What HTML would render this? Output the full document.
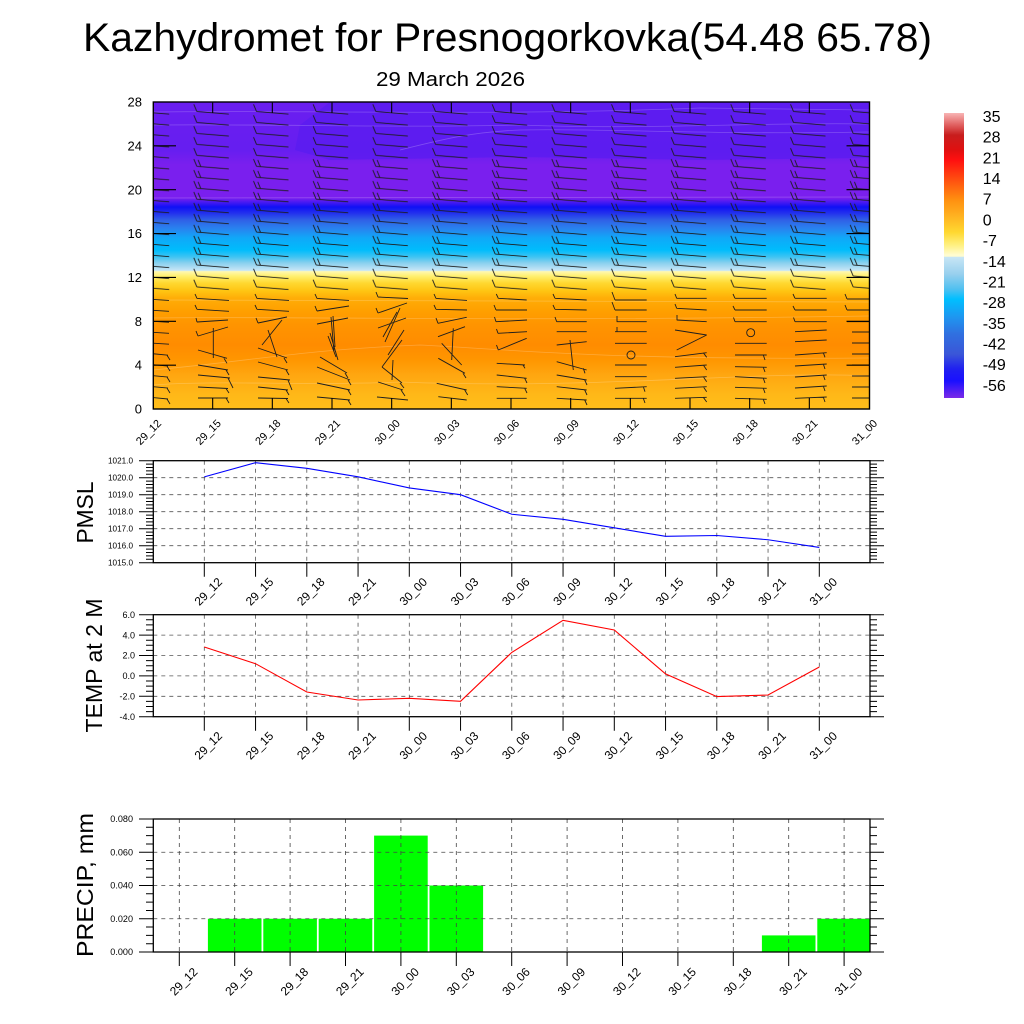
<!DOCTYPE html>
<html><head><meta charset="utf-8">
<style>
html,body{margin:0;padding:0;background:#fff;}
svg{display:block;font-family:"Liberation Sans",Arial,Helvetica,sans-serif;}
</style></head>
<body>
<svg width="1024" height="1024" viewBox="0 0 1024 1024" xmlns="http://www.w3.org/2000/svg">
<defs>
<linearGradient id="fld" gradientUnits="userSpaceOnUse" x1="0" y1="102" x2="0" y2="409">
<stop offset="0" stop-color="#6a1ef0"/>
<stop offset="0.156" stop-color="#661ef0"/>
<stop offset="0.205" stop-color="#7a1fee"/>
<stop offset="0.313" stop-color="#7a1fee"/>
<stop offset="0.326" stop-color="#4a1af2"/>
<stop offset="0.342" stop-color="#1010f5"/>
<stop offset="0.362" stop-color="#2230ee"/>
<stop offset="0.384" stop-color="#3060e6"/>
<stop offset="0.410" stop-color="#2a80ee"/>
<stop offset="0.443" stop-color="#10a8f8"/>
<stop offset="0.482" stop-color="#00bcfc"/>
<stop offset="0.505" stop-color="#40c4f2"/>
<stop offset="0.524" stop-color="#88d0ee"/>
<stop offset="0.549" stop-color="#c8e6f6"/>
<stop offset="0.552" stop-color="#fff8b0"/>
<stop offset="0.567" stop-color="#fff070"/>
<stop offset="0.590" stop-color="#ffd830"/>
<stop offset="0.616" stop-color="#ffc412"/>
<stop offset="0.638" stop-color="#ffae08"/>
<stop offset="0.678" stop-color="#ffa000"/>
<stop offset="0.726" stop-color="#ff9400"/>
<stop offset="0.792" stop-color="#ff8c00"/>
<stop offset="0.840" stop-color="#ff9600"/>
<stop offset="0.889" stop-color="#ffa610"/>
<stop offset="0.954" stop-color="#ffb818"/>
<stop offset="1" stop-color="#ffbe1a"/>
</linearGradient>
<linearGradient id="cbar" gradientUnits="userSpaceOnUse" x1="0" y1="113" x2="0" y2="398">
<stop offset="0" stop-color="#f8b4b4"/>
<stop offset="0.042" stop-color="#e06060"/>
<stop offset="0.077" stop-color="#c81e1e"/>
<stop offset="0.130" stop-color="#e01010"/>
<stop offset="0.165" stop-color="#ff1010"/>
<stop offset="0.218" stop-color="#ff4010"/>
<stop offset="0.270" stop-color="#ff7010"/>
<stop offset="0.305" stop-color="#ff9010"/>
<stop offset="0.358" stop-color="#ffb020"/>
<stop offset="0.418" stop-color="#ffd830"/>
<stop offset="0.463" stop-color="#fff080"/>
<stop offset="0.498" stop-color="#fffcd0"/>
<stop offset="0.5035" stop-color="#fffcd0"/>
<stop offset="0.505" stop-color="#c8e6f5"/>
<stop offset="0.565" stop-color="#98d0ee"/>
<stop offset="0.618" stop-color="#50c0f0"/>
<stop offset="0.653" stop-color="#00bfff"/>
<stop offset="0.716" stop-color="#1e96f0"/>
<stop offset="0.775" stop-color="#3070e0"/>
<stop offset="0.846" stop-color="#3a56d8"/>
<stop offset="0.898" stop-color="#2020f0"/>
<stop offset="0.940" stop-color="#1a10ff"/>
<stop offset="1" stop-color="#7b2ae8"/>
</linearGradient>
<pattern id="b1" patternUnits="userSpaceOnUse" x="123.167" y="400" width="59.667" height="10.964">
<path d="M14,7.5 L46,10.2 M14,7.5 L11,0.3" stroke="#1c1c1c" stroke-width="0.9" fill="none"/>
</pattern>
<pattern id="b2" patternUnits="userSpaceOnUse" x="123.167" y="400" width="59.667" height="10.964">
<path d="M14,7.5 L46,10.2 M14,7.5 L11,0.3 M18,7.8 L15.3,1.2" stroke="#1c1c1c" stroke-width="0.9" fill="none"/>
</pattern>
<clipPath id="cp"><rect x="153.3" y="102" width="716.2" height="307"/></clipPath>
<clipPath id="cpp"><rect x="153.3" y="819" width="716.7" height="133"/></clipPath>
</defs>

<rect width="1024" height="1024" fill="#fff"/>

<!-- Titles -->
<text x="507.5" y="51" font-size="40" text-anchor="middle" textLength="849" lengthAdjust="spacingAndGlyphs">Kazhydromet for Presnogorkovka(54.48 65.78)</text>
<text x="450.5" y="86" font-size="20" text-anchor="middle" textLength="149" lengthAdjust="spacingAndGlyphs">29 March 2026</text>

<!-- ===== Top panel ===== -->
<g clip-path="url(#cp)">
<rect x="153.3" y="102" width="716.2" height="307" fill="url(#fld)"/>
<path d="M330,102 L869.5,102 L869.5,158 L700,160 L520,157 L330,160 L295,150 L300,125 Z" fill="#5a1cf0" opacity="0.75"/>
<g fill="none" stroke="#ffffff" stroke-opacity="0.22" stroke-width="0.8">
<path d="M153,112 C300,110 500,116 700,108 L869,110"/>
<path d="M153,125 C280,124 400,128 520,125 C650,130 760,122 869,124"/>
<path d="M400,150 C440,140 470,132 520,130 C600,128 700,135 869,132"/>
<path d="M153,198 L869,197"/>
<path d="M153,300 L869,302"/>
<path d="M153,318 C300,316 500,322 869,316"/>
<path d="M153,370 C260,360 300,350 420,345 C520,350 600,360 869,358"/>
<path d="M153,385 C220,380 300,386 400,382 C600,390 760,370 869,376"/>
</g>
<!-- regular barbs via patterns -->
<rect x="153.3" y="103.97" width="716.2" height="54.82" fill="url(#b1)"/>
<rect x="153.3" y="158.79" width="716.2" height="109.64" fill="url(#b2)"/>
<rect x="153.3" y="268.43" width="716.2" height="21.93" fill="url(#b1)"/>
<!-- lower barbs -->
<g fill="none" stroke="#1e1e1e" stroke-width="0.9">
<path d="M137,298.4 L169,300.4 M137,298.4 L135,293 M137,309.3 L169,311.3 M137,309.3 L135,304 M137,320.3 L169,322.3 M137,331.3 L169,333.3 M137,342.2 L169,344.2 M137,352.2 L168,355.2 M167,355.2 L170,360 M137,363.1 L168,366.1 M167,366.1 L170,371 M137,374.1 L168,377.1 M167,377.1 L170,382 M137,385.1 L168,388.1 M167,388.1 L170,393 M137,396 L168,399 M167,399 L170,404"/>
<path d="M197,298.4 L229,300.4 M197,298.4 L195,294 M197,309.3 L229,311.3 M197,309.3 L195,305 M197,322 L228,320 M197,322 L196,318 M198,336 L228,327 M198,336 L196,331 M213.3,328 L213.3,358 M198,350 L227,358.3 M224,358.3 L227,363.3 M198,365 L228,370 M226,370 L229,375 M198,375 L230,378 M228,378 L233,388 M198,387 L228,388.5 M226,388.5 L229,393 M198,398 L228,398 M226,398 L229,403"/>
<path d="M257,298.4 L289,300.4 M257,298.4 L255,294 M257,309.3 L289,311.3 M257,309.3 L255,305 M258,323 L287,317 M258,323 L256,318 M262,345 L282,320 M268,330 L277,357 M258,348 L287,358 M284,358 L287,363 M258,362 L288,370 M286,370 L289,375 M258,377 L290,380 M288,380 L292,390 M258,387 L288,390 M286,390 L289,395 M258,398 L288,398.5 M286,398.5 L289,403"/>
<path d="M317,298.4 L349,300.4 M317,298.4 L315,294 M317,311 L349,306 M317,311 L315,306 M317,324 L348,318 M331,317 L334,352 M333,316 L335,347 M328,336 L336,357 M330,333 L338,360 M320,357 L347,373 M345,373 L348,378 M317,367 L350,380 M348,380 L351,385 M317,383 L350,390 M348,390 L351,395 M317,397 L350,400 M348,400 L351,405"/>
<path d="M378,297 L408,298.5 M378,297 L376,292 M378,313 L407,303 M378,313 L376,308 M378,328 L406,318 M385,342 L400,308 M383,337 L397,312 M382,367 L402,340 M392,380 L393,360 M388,355 L404,330 M382,367 L402,383 M400,383 L404,388 M378,382 L403,390 M401,390 L405,396 M377,397 L408,400"/>
<path d="M436,298.4 L467,300.4 M436,298.4 L434,294 M436,309.3 L467,310 M436,309.3 L434,305 M438,323.3 L466.7,317.3 M438,323.3 L436,318 M438,336.7 L465,326.7 M441.7,343.3 L461.7,365 M453.3,328.3 L451.7,360 M438.3,358.3 L465,373.3 M463,373.3 L466,378 M436.7,383.3 L466.7,390 M464.7,390 L467.7,395 M438.3,396.7 L466.7,400"/>
<path d="M498.3,298.3 L526.7,300 M498.3,298.3 L496.3,294 M496,310 L527,310 M496,310 L494,305 M496,321.7 L527,320 M496,321.7 L494.5,317 M498,333.3 L527,331.7 M498,333.3 L496.5,329 M498.3,350 L526.7,338.3 M498.3,350 L496.5,345 M496.7,363.3 L525,365 M523,365 L525,368.3 M496.7,375 L526.7,378.3 M524.7,378.3 L527,383 M496.7,386.7 L526.7,388.3 M524.7,388.3 L527,393 M496.7,398.3 L526.7,398.3"/>
<path d="M555,298.3 L586.7,300 M555,298.3 L553,294 M555,309.3 L586.7,310 M555,309.3 L553,305 M556.7,321.7 L586.7,321.7 M556.7,321.7 L555,317 M556.7,331.7 L586.7,331.7 M556.7,345 L586.7,341.7 M570,340 L573.3,370 M556.7,361.7 L586.7,370 M583.3,368.3 L585,373.3 M556.7,375 L586.7,380 M584.7,380 L587,385 M556.7,386.7 L586.7,390 M584.7,390 L587,395 M556.7,398.3 L586.7,400 M584.7,400 L587,405"/>
<path d="M615,300 L646.7,300 M615,300 L612,292 M615,310 L646.7,310 M615,310 L612,302 M616.7,321.7 L646.7,321.7 M617,321.7 L617,316 M615,331.7 L646.7,331.7 M617,331.7 L617,327 M615,343.3 L646.7,343.3 M615,365 L646.7,365 M615,376.7 L646.7,376.7 M615,388.3 L646.7,386.7 M643.3,386.7 L645,391.7 M615,398.3 L646.7,398.3 M643.3,398.3 L645,403"/>
<circle cx="631" cy="355" r="4"/>
<path d="M676.7,298.3 L706.7,298.3 M676.7,298.3 L675,294 M676.7,308.3 L706.7,310 M676.7,308.3 L675,304 M676.7,320 L706.7,321.7 M677,320 L677,315 M675,330 L706.7,335 M676.7,350 L706.7,335 M675,356.7 L706.7,352.7 M703.3,352.7 L706.7,357.3 M675,367.3 L706.7,365 M703.3,365 L706.7,370 M675,378.3 L706.7,376.7 M703.3,376.7 L706.7,381.7 M675,388.3 L706.7,386.7 M703.3,386.7 L706.7,391.7 M675,398.3 L706.7,397.3 M703.3,397.3 L706.7,402"/>
<path d="M735,298.3 L766.7,298.3 M735,298.3 L733,294 M735,310 L766.7,310 M735,310 L733,306 M735,321.7 L766.7,321.7 M735,321.7 L733.5,317.5 M735,343.3 L766.7,343.3 M735,355 L766.7,355 M763.3,355 L765,360 M735,366.7 L766.7,367.3 M763.3,367.3 L765,372 M735,376.7 L766.7,378.3 M763.3,378.3 L765,383 M735,387.3 L766.7,388.3 M763.3,388.3 L765,393 M735,398.3 L766.7,399.3 M763.3,399.3 L765,404"/>
<circle cx="750.7" cy="332.7" r="4"/>
<path d="M795,298.3 L826.7,298.3 M795,298.3 L793,294 M795,310 L826.7,310 M795,310 L793,306 M795,321.7 L826.7,321.7 M795,321.7 L793.5,317.5 M795,331.7 L826.7,330 M795,341.7 L826.7,340 M795,355 L826.7,352.7 M823.3,352.7 L825,357.3 M795,366 L826.7,364 M823.3,364 L825,369 M795,377 L826.7,375 M823.3,375 L825,380 M795,388 L826.7,386 M823.3,386 L825,391 M795,398.3 L826.7,397 M823.3,397 L825,402"/>
<path d="M847,299 L870,299 M847,299 L845,294 M847,310 L870,310 M847,310 L845,305 M847,321.7 L870,321.7 M852,332 L870,332 M852,343 L870,343 M852,354 L870,354 M852,365 L870,365 M852,376 L870,376 M852,387 L870,387 M852,398 L870,398"/>
</g>
<!-- inward ticks -->
<g stroke="#000" stroke-width="1.1" fill="none">
<path d="M212.67,102 V113 M272.33,102 V113 M332,102 V113 M391.67,102 V113 M451.33,102 V113 M511,102 V113 M570.67,102 V113 M630.33,102 V113 M690,102 V113 M749.67,102 V113 M809.33,102 V113"/>
<path d="M212.67,398 V409 M272.33,398 V409 M332,398 V409 M391.67,398 V409 M451.33,398 V409 M511,398 V409 M570.67,398 V409 M630.33,398 V409 M690,398 V409 M749.67,398 V409 M809.33,398 V409"/>
<path d="M153,365.14 H176 M153,321.29 H176 M153,277.43 H176 M153,233.58 H176 M153,189.72 H176 M153,145.86 H176"/>
<path d="M846.5,365.14 H869.5 M846.5,321.29 H869.5 M846.5,277.43 H869.5 M846.5,233.58 H869.5 M846.5,189.72 H869.5 M846.5,145.86 H869.5"/>
</g>
</g>
<rect x="153.3" y="102" width="716.2" height="307" fill="none" stroke="#000" stroke-width="1.4"/>

<!-- top panel y labels -->
<g font-size="13" text-anchor="end">
<text x="142" y="413.6">0</text>
<text x="142" y="369.7">4</text>
<text x="142" y="325.9">8</text>
<text x="142" y="282">12</text>
<text x="142" y="238.2">16</text>
<text x="142" y="194.3">20</text>
<text x="142" y="150.5">24</text>
<text x="142" y="106.6">28</text>
</g>
<!-- top panel x labels -->
<g font-size="11" text-anchor="end">
<text transform="translate(162,424) rotate(-45)">29_12</text>
<text transform="translate(221.7,424) rotate(-45)">29_15</text>
<text transform="translate(281.3,424) rotate(-45)">29_18</text>
<text transform="translate(341,424) rotate(-45)">29_21</text>
<text transform="translate(400.7,424) rotate(-45)">30_00</text>
<text transform="translate(460.3,424) rotate(-45)">30_03</text>
<text transform="translate(520,424) rotate(-45)">30_06</text>
<text transform="translate(579.7,424) rotate(-45)">30_09</text>
<text transform="translate(639.3,424) rotate(-45)">30_12</text>
<text transform="translate(699,424) rotate(-45)">30_15</text>
<text transform="translate(758.7,424) rotate(-45)">30_18</text>
<text transform="translate(818.3,424) rotate(-45)">30_21</text>
<text transform="translate(878,424) rotate(-45)">31_00</text>
</g>

<!-- colorbar -->
<rect x="944" y="113" width="20" height="285" fill="url(#cbar)"/>
<g font-size="16">
<text x="982.7" y="122">35</text>
<text x="982.7" y="142.7">28</text>
<text x="982.7" y="163.4">21</text>
<text x="982.7" y="184.1">14</text>
<text x="982.7" y="204.7">7</text>
<text x="982.7" y="225.4">0</text>
<text x="982.7" y="246.1">-7</text>
<text x="982.7" y="266.8">-14</text>
<text x="982.7" y="287.5">-21</text>
<text x="982.7" y="308.1">-28</text>
<text x="982.7" y="328.8">-35</text>
<text x="982.7" y="349.5">-42</text>
<text x="982.7" y="370.2">-49</text>
<text x="982.7" y="390.8">-56</text>
</g>

<!-- ===== PMSL panel ===== -->
<g stroke="#555" stroke-width="0.8" stroke-dasharray="4,4" fill="none">
<path d="M153.3,477.7 H870 M153.3,494.7 H870 M153.3,511.7 H870 M153.3,528.7 H870 M153.3,545.7 H870"/>
<path d="M204.3,460.7 V562.7 M255.55,460.7 V562.7 M306.8,460.7 V562.7 M358.05,460.7 V562.7 M409.3,460.7 V562.7 M460.55,460.7 V562.7 M511.8,460.7 V562.7 M563.05,460.7 V562.7 M614.3,460.7 V562.7 M665.55,460.7 V562.7 M716.8,460.7 V562.7 M768.05,460.7 V562.7 M819.3,460.7 V562.7"/>
</g>
<polyline points="204.3,476.85 255.55,462.7 306.8,468.35 358.05,476.85 409.3,487.9 460.55,494.7 511.8,514.25 563.05,519.35 614.3,527.85 665.55,536.35 716.8,535.5 768.05,539.75 819.3,547.4" fill="none" stroke="#0000ff" stroke-width="1.1"/>
<rect x="153.3" y="460.7" width="716.7" height="102" fill="none" stroke="#000" stroke-width="1.3"/>
<g stroke="#000" stroke-width="1" fill="none">
<path d="M139,460.7 H153.3 M139,477.7 H153.3 M139,494.7 H153.3 M139,511.7 H153.3 M139,528.7 H153.3 M139,545.7 H153.3 M139,562.7 H153.3"/>
<path d="M870,460.7 H884 M870,477.7 H884 M870,494.7 H884 M870,511.7 H884 M870,528.7 H884 M870,545.7 H884 M870,562.7 H884"/>
<path d="M146,464.1 H153 M146,467.5 H153 M146,470.9 H153 M146,474.3 H153 M146,481.1 H153 M146,484.5 H153 M146,487.9 H153 M146,491.3 H153 M146,498.1 H153 M146,501.5 H153 M146,504.9 H153 M146,508.3 H153 M146,515.1 H153 M146,518.5 H153 M146,521.9 H153 M146,525.3 H153 M146,532.1 H153 M146,535.5 H153 M146,538.9 H153 M146,542.3 H153 M146,549.1 H153 M146,552.5 H153 M146,555.9 H153 M146,559.3 H153"/>
<path d="M870,464.1 H877 M870,467.5 H877 M870,470.9 H877 M870,474.3 H877 M870,481.1 H877 M870,484.5 H877 M870,487.9 H877 M870,491.3 H877 M870,498.1 H877 M870,501.5 H877 M870,504.9 H877 M870,508.3 H877 M870,515.1 H877 M870,518.5 H877 M870,521.9 H877 M870,525.3 H877 M870,532.1 H877 M870,535.5 H877 M870,538.9 H877 M870,542.3 H877 M870,549.1 H877 M870,552.5 H877 M870,555.9 H877 M870,559.3 H877"/>
<path d="M204.3,562.7 V576.7 M255.55,562.7 V576.7 M306.8,562.7 V576.7 M358.05,562.7 V576.7 M409.3,562.7 V576.7 M460.55,562.7 V576.7 M511.8,562.7 V576.7 M563.05,562.7 V576.7 M614.3,562.7 V576.7 M665.55,562.7 V576.7 M716.8,562.7 V576.7 M768.05,562.7 V576.7 M819.3,562.7 V576.7"/>
</g>
<g font-size="8.3" text-anchor="end">
<text x="133" y="463.6" textLength="25" lengthAdjust="spacingAndGlyphs">1021.0</text>
<text x="133" y="480.6" textLength="25" lengthAdjust="spacingAndGlyphs">1020.0</text>
<text x="133" y="497.6" textLength="25" lengthAdjust="spacingAndGlyphs">1019.0</text>
<text x="133" y="514.6" textLength="25" lengthAdjust="spacingAndGlyphs">1018.0</text>
<text x="133" y="531.6" textLength="25" lengthAdjust="spacingAndGlyphs">1017.0</text>
<text x="133" y="548.6" textLength="25" lengthAdjust="spacingAndGlyphs">1016.0</text>
<text x="133" y="565.6" textLength="25" lengthAdjust="spacingAndGlyphs">1015.0</text>
</g>
<g font-size="12" text-anchor="end">
<text transform="translate(223,582.7) rotate(-45)">29_12</text>
<text transform="translate(274.25,582.7) rotate(-45)">29_15</text>
<text transform="translate(325.5,582.7) rotate(-45)">29_18</text>
<text transform="translate(376.75,582.7) rotate(-45)">29_21</text>
<text transform="translate(428,582.7) rotate(-45)">30_00</text>
<text transform="translate(479.25,582.7) rotate(-45)">30_03</text>
<text transform="translate(530.5,582.7) rotate(-45)">30_06</text>
<text transform="translate(581.75,582.7) rotate(-45)">30_09</text>
<text transform="translate(633,582.7) rotate(-45)">30_12</text>
<text transform="translate(684.25,582.7) rotate(-45)">30_15</text>
<text transform="translate(735.5,582.7) rotate(-45)">30_18</text>
<text transform="translate(786.75,582.7) rotate(-45)">30_21</text>
<text transform="translate(838,582.7) rotate(-45)">31_00</text>
</g>
<text transform="translate(93,512.5) rotate(-90)" font-size="23" text-anchor="middle" textLength="62" lengthAdjust="spacingAndGlyphs">PMSL</text>

<!-- ===== TEMP panel ===== -->
<g stroke="#555" stroke-width="0.8" stroke-dasharray="4,4" fill="none">
<path d="M153.3,635.1 H870 M153.3,655.5 H870 M153.3,675.9 H870 M153.3,696.3 H870"/>
<path d="M204.3,614.7 V716.7 M255.55,614.7 V716.7 M306.8,614.7 V716.7 M358.05,614.7 V716.7 M409.3,614.7 V716.7 M460.55,614.7 V716.7 M511.8,614.7 V716.7 M563.05,614.7 V716.7 M614.3,614.7 V716.7 M665.55,614.7 V716.7 M716.8,614.7 V716.7 M768.05,614.7 V716.7 M819.3,614.7 V716.7"/>
</g>
<polyline points="204.3,647 255.55,663.7 306.8,692 358.05,700 409.3,698.3 460.55,701.3 511.8,652.4 563.05,620.3 614.3,630 665.55,673.9 716.8,696.6 768.05,695 819.3,667" fill="none" stroke="#ff0000" stroke-width="1.1"/>
<rect x="153.3" y="614.7" width="716.7" height="102" fill="none" stroke="#000" stroke-width="1.3"/>
<g stroke="#000" stroke-width="1" fill="none">
<path d="M139,614.7 H153.3 M139,635.1 H153.3 M139,655.5 H153.3 M139,675.9 H153.3 M139,696.3 H153.3 M139,716.7 H153.3"/>
<path d="M870,614.7 H884 M870,635.1 H884 M870,655.5 H884 M870,675.9 H884 M870,696.3 H884 M870,716.7 H884"/>
<path d="M146,619.8 H153 M146,624.9 H153 M146,630 H153 M146,640.2 H153 M146,645.3 H153 M146,650.4 H153 M146,660.6 H153 M146,665.7 H153 M146,670.8 H153 M146,681 H153 M146,686.1 H153 M146,691.2 H153 M146,701.4 H153 M146,706.5 H153 M146,711.6 H153"/>
<path d="M870,619.8 H877 M870,624.9 H877 M870,630 H877 M870,640.2 H877 M870,645.3 H877 M870,650.4 H877 M870,660.6 H877 M870,665.7 H877 M870,670.8 H877 M870,681 H877 M870,686.1 H877 M870,691.2 H877 M870,701.4 H877 M870,706.5 H877 M870,711.6 H877"/>
<path d="M204.3,716.7 V730.7 M255.55,716.7 V730.7 M306.8,716.7 V730.7 M358.05,716.7 V730.7 M409.3,716.7 V730.7 M460.55,716.7 V730.7 M511.8,716.7 V730.7 M563.05,716.7 V730.7 M614.3,716.7 V730.7 M665.55,716.7 V730.7 M716.8,716.7 V730.7 M768.05,716.7 V730.7 M819.3,716.7 V730.7"/>
</g>
<g font-size="9" text-anchor="end">
<text x="135" y="617.9">6.0</text>
<text x="135" y="638.3">4.0</text>
<text x="135" y="658.7">2.0</text>
<text x="135" y="679.1">0.0</text>
<text x="135" y="699.5">-2.0</text>
<text x="135" y="719.9">-4.0</text>
</g>
<g font-size="12" text-anchor="end">
<text transform="translate(223,736.7) rotate(-45)">29_12</text>
<text transform="translate(274.25,736.7) rotate(-45)">29_15</text>
<text transform="translate(325.5,736.7) rotate(-45)">29_18</text>
<text transform="translate(376.75,736.7) rotate(-45)">29_21</text>
<text transform="translate(428,736.7) rotate(-45)">30_00</text>
<text transform="translate(479.25,736.7) rotate(-45)">30_03</text>
<text transform="translate(530.5,736.7) rotate(-45)">30_06</text>
<text transform="translate(581.75,736.7) rotate(-45)">30_09</text>
<text transform="translate(633,736.7) rotate(-45)">30_12</text>
<text transform="translate(684.25,736.7) rotate(-45)">30_15</text>
<text transform="translate(735.5,736.7) rotate(-45)">30_18</text>
<text transform="translate(786.75,736.7) rotate(-45)">30_21</text>
<text transform="translate(838,736.7) rotate(-45)">31_00</text>
</g>
<text transform="translate(102,665.5) rotate(-90)" font-size="23" text-anchor="middle" textLength="134" lengthAdjust="spacingAndGlyphs">TEMP at 2 M</text>

<!-- ===== PRECIP panel ===== -->
<g clip-path="url(#cpp)" fill="#00ff00">
<rect x="207.9" y="918.75" width="53.6" height="33.25"/>
<rect x="263.3" y="918.75" width="53.6" height="33.25"/>
<rect x="318.7" y="918.75" width="53.6" height="33.25"/>
<rect x="374.1" y="835.6" width="53.6" height="116.4"/>
<rect x="429.5" y="885.5" width="53.6" height="66.5"/>
<rect x="761.9" y="935.4" width="53.6" height="16.6"/>
<rect x="817.3" y="918.75" width="53.6" height="33.25"/>
</g>
<g stroke="#444" stroke-width="0.8" stroke-dasharray="4,4" fill="none">
<path d="M153.3,852.25 H870 M153.3,885.5 H870 M153.3,918.75 H870"/>
<path d="M179.3,819 V952 M234.7,819 V952 M290.1,819 V952 M345.5,819 V952 M400.9,819 V952 M456.3,819 V952 M511.7,819 V952 M567.1,819 V952 M622.5,819 V952 M677.9,819 V952 M733.3,819 V952 M788.7,819 V952 M844.1,819 V952"/>
</g>
<rect x="153.3" y="819" width="716.7" height="133" fill="none" stroke="#000" stroke-width="1.3"/>
<g stroke="#000" stroke-width="1" fill="none">
<path d="M139,819 H153.3 M139,852.25 H153.3 M139,885.5 H153.3 M139,918.75 H153.3 M139,952 H153.3"/>
<path d="M870,819 H884 M870,852.25 H884 M870,885.5 H884 M870,918.75 H884 M870,952 H884"/>
<path d="M146,827.31 H153 M146,835.63 H153 M146,843.94 H153 M146,860.56 H153 M146,868.88 H153 M146,877.19 H153 M146,893.81 H153 M146,902.13 H153 M146,910.44 H153 M146,927.06 H153 M146,935.38 H153 M146,943.69 H153"/>
<path d="M870,827.31 H877 M870,835.63 H877 M870,843.94 H877 M870,860.56 H877 M870,868.88 H877 M870,877.19 H877 M870,893.81 H877 M870,902.13 H877 M870,910.44 H877 M870,927.06 H877 M870,935.38 H877 M870,943.69 H877"/>
<path d="M179.3,952 V966 M234.7,952 V966 M290.1,952 V966 M345.5,952 V966 M400.9,952 V966 M456.3,952 V966 M511.7,952 V966 M567.1,952 V966 M622.5,952 V966 M677.9,952 V966 M733.3,952 V966 M788.7,952 V966 M844.1,952 V966"/>
</g>
<g font-size="8.8" text-anchor="end">
<text x="133" y="822.2" textLength="22.7" lengthAdjust="spacingAndGlyphs">0.080</text>
<text x="133" y="855.4" textLength="22.7" lengthAdjust="spacingAndGlyphs">0.060</text>
<text x="133" y="888.7" textLength="22.7" lengthAdjust="spacingAndGlyphs">0.040</text>
<text x="133" y="921.9" textLength="22.7" lengthAdjust="spacingAndGlyphs">0.020</text>
<text x="133" y="955.2" textLength="22.7" lengthAdjust="spacingAndGlyphs">0.000</text>
</g>
<g font-size="12" text-anchor="end">
<text transform="translate(198.3,972.6) rotate(-45)">29_12</text>
<text transform="translate(253.7,972.6) rotate(-45)">29_15</text>
<text transform="translate(309.1,972.6) rotate(-45)">29_18</text>
<text transform="translate(364.5,972.6) rotate(-45)">29_21</text>
<text transform="translate(419.9,972.6) rotate(-45)">30_00</text>
<text transform="translate(475.3,972.6) rotate(-45)">30_03</text>
<text transform="translate(530.7,972.6) rotate(-45)">30_06</text>
<text transform="translate(586.1,972.6) rotate(-45)">30_09</text>
<text transform="translate(641.5,972.6) rotate(-45)">30_12</text>
<text transform="translate(696.9,972.6) rotate(-45)">30_15</text>
<text transform="translate(752.3,972.6) rotate(-45)">30_18</text>
<text transform="translate(807.7,972.6) rotate(-45)">30_21</text>
<text transform="translate(863.1,972.6) rotate(-45)">31_00</text>
</g>
<text transform="translate(93,885) rotate(-90)" font-size="23" text-anchor="middle" textLength="144" lengthAdjust="spacingAndGlyphs">PRECIP, mm</text>
</svg>
</body></html>
